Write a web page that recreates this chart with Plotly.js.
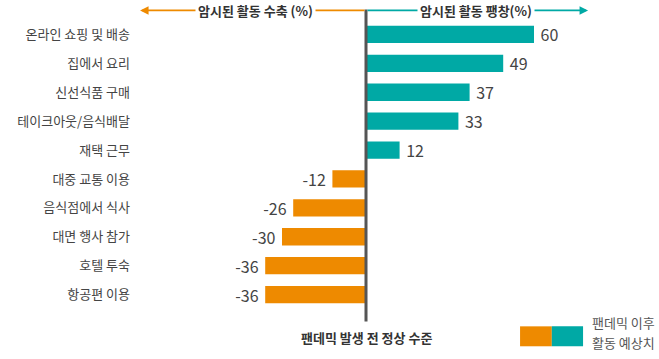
<!DOCTYPE html>
<html>
<head>
<meta charset="utf-8">
<script src="https://cdn.plot.ly/plotly-3.0.1.min.js"></script>
<style>html,body{margin:0;padding:0;background:#fff;}#chart{width:659px;height:359px;}</style>
</head>
<body>
<div id="chart"></div>
<script>
const categories = ["온라인 쇼핑 및 배송","집에서 요리","신선식품 구매","테이크아웃/음식배달","재택 근무","대중 교통 이용","음식점에서 식사","대면 행사 참가","호텔 투숙","항공편 이용"];
const values = [60, 49, 37, 33, 12, -12, -26, -30, -36, -36];
const leftTitle = "암시된 활동 수축 (%)";
const rightTitle = "암시된 활동 팽창(%)";
const baseLabel = "팬데믹 발생 전 정상 수준";
const legendLine1 = "팬데믹 이후";
const legendLine2 = "활동 예상치";

const ORANGE = "#EE8A00", TEAL = "#00A9A5";
const FONT = "Noto Sans CJK KR";
const NB = "\u00A0";

const idx = categories.map((c, i) => i);
const trace = {
  type: "bar", orientation: "h",
  x: values, y: idx,
  marker: {color: values.map(v => v >= 0 ? TEAL : ORANGE)},
  width: 0.6,
  text: values.map(v => v >= 0 ? NB + v : v + NB),
  textposition: "outside",
  constraintext: "none",
  textfont: {family: FONT, size: 16, color: "#444"},
  cliponaxis: false,
  hoverinfo: "none"
};

const layout = {
  width: 659, height: 359,
  margin: {l: 135, r: 20, t: 19.5, b: 49.5},
  paper_bgcolor: "#fff", plot_bgcolor: "#fff",
  showlegend: false,
  bargap: 0.4,
  font: {family: FONT, color: "#444"},
  xaxis: {range: [-82.5, 97.5], showgrid: false, zeroline: false, showticklabels: false, showline: false, fixedrange: true},
  yaxis: {range: [9.5, -0.5], tickmode: "array", tickvals: idx, ticktext: categories,
          showgrid: false, zeroline: false, showline: false, ticks: "",
          tickfont: {family: FONT, size: 13, color: "#444"}, ticklabelstandoff: 4, fixedrange: true},
  shapes: [
    {type: "line", xref: "x", yref: "paper", x0: 0, x1: 0, y0: -0.043, y1: 1.036, line: {color: "#555", width: 3}},
    {type: "rect", xref: "paper", yref: "paper", x0: 0.764, x1: 0.827, y0: -0.129, y1: -0.060, fillcolor: ORANGE, line: {width: 0}},
    {type: "rect", xref: "paper", yref: "paper", x0: 0.827, x1: 0.889, y0: -0.129, y1: -0.060, fillcolor: TEAL, line: {width: 0}}
  ],
  annotations: [
    {x: -80.7, y: 1.033, xref: "x", yref: "paper", ax: 0, ay: 1.033, axref: "x", ayref: "paper",
     text: "", showarrow: true, arrowhead: 2, arrowsize: 1, arrowwidth: 1.7, arrowcolor: ORANGE},
    {x: 79.3, y: 1.033, xref: "x", yref: "paper", ax: 0, ay: 1.033, axref: "x", ayref: "paper",
     text: "", showarrow: true, arrowhead: 2, arrowsize: 1, arrowwidth: 1.7, arrowcolor: TEAL},
    {x: -39.3, y: 1.033, xref: "x", yref: "paper", yanchor: "middle", text: "<b>" + leftTitle + "</b>", showarrow: false,
     bgcolor: "#fff", borderpad: 2, font: {family: FONT, size: 13, color: "#333"}},
    {x: 39.3, y: 1.033, xref: "x", yref: "paper", yanchor: "middle", text: "<b>" + rightTitle + "</b>", showarrow: false,
     bgcolor: "#fff", borderpad: 2, font: {family: FONT, size: 13, color: "#333"}},
    {x: 0, y: -0.098, xref: "x", yref: "paper", yanchor: "middle", text: "<b>" + baseLabel + "</b>", showarrow: false,
     font: {family: FONT, size: 13, color: "#333"}},
    {x: 0.903, y: -0.0466, xref: "paper", yref: "paper", xanchor: "left", yanchor: "middle", text: legendLine1, showarrow: false,
     font: {family: FONT, size: 13, color: "#555"}},
    {x: 0.903, y: -0.1155, xref: "paper", yref: "paper", xanchor: "left", yanchor: "middle", text: legendLine2, showarrow: false,
     font: {family: FONT, size: 13, color: "#555"}}
  ]
};

Plotly.newPlot("chart", [trace], layout, {displayModeBar: false, staticPlot: true});
</script>
</body>
</html>
